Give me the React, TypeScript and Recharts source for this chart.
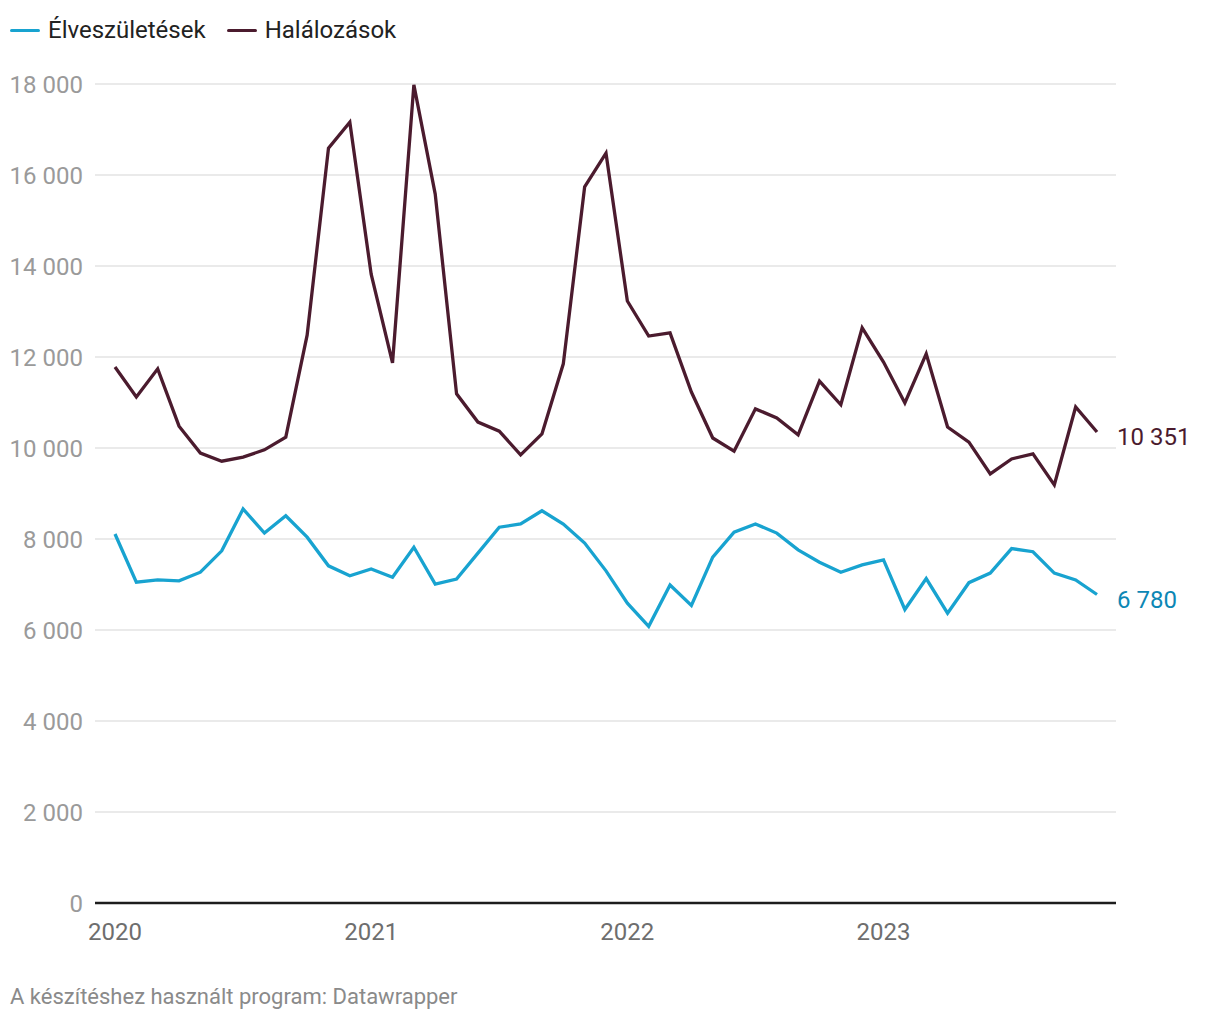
import React from 'react';
import { LineChart, Line, CartesianGrid, XAxis, YAxis } from 'recharts';

const years = ['2020', '2021', '2022', '2023'];

// havi adatok, 2020. jan – 2023. nov
const births = [
  8110, 7050, 7100, 7080, 7270, 7740, 8660, 8130, 8510, 8040, 7410, 7190,
  7340, 7160, 7820, 7010, 7120, 7690, 8260, 8330, 8620, 8330, 7910, 7300,
  6590, 6080, 6990, 6540, 7600, 8150, 8330, 8130, 7760, 7490, 7270, 7430,
  7540, 6450, 7130, 6370, 7040, 7250, 7790, 7720, 7250, 7100, 6780,
];

const deaths = [
  11780, 11120, 11740, 10480, 9890, 9710, 9800, 9960, 10240, 12480, 16590, 17160,
  13820, 11870, 17980, 15580, 11190, 10570, 10370, 9850, 10310, 11850, 15740, 16480,
  13230, 12460, 12530, 11230, 10220, 9930, 10860, 10660, 10290, 11470, 10950, 12640,
  11890, 10990, 12070, 10460, 10130, 9430, 9760, 9870, 9190, 10900, 10351,
];

const yTicks = [0, 2000, 4000, 6000, 8000, 10000, 12000, 14000, 16000, 18000];

const BIRTH_COLOR = '#18a3d0';
const BIRTH_LABEL = '#0c87b5';
const DEATH_COLOR = '#4b1b2e';
const FONT = 'Roboto, sans-serif';

const data = births.map((b, i) => ({ idx: i, births: b, deaths: deaths[i] }));
const lastIdx = births.length - 1;

const fmt = (v: number) => String(v).replace(/\B(?=(\d{3})+(?!\d))/g, ' ');

const endLabel = (color: string) => (props: any) => {
  const { x, y, index, value } = props;
  if (index !== lastIdx) return null;
  return (
    <text
      x={x + 20}
      y={y + 7}
      fill={color}
      fontSize={24}
      dominantBaseline="middle"
      fontFamily={FONT}
    >
      {fmt(value)}
    </text>
  );
};

const LegendItem = ({ color, label }: { color: string; label: string }) => (
  <div style={{ display: 'flex', alignItems: 'center', marginRight: 21 }}>
    <span
      style={{ width: 30, height: 3, borderRadius: 2, background: color, marginRight: 8 }}
    />
    <span>{label}</span>
  </div>
);

export default function App() {
  return (
    <div
      style={{
        position: 'absolute',
        left: 0,
        top: 0,
        width: 1220,
        height: 1020,
        background: '#fff',
        fontFamily: FONT,
      }}
    >
      <div
        style={{
          position: 'absolute',
          left: 10,
          top: 16,
          height: 28,
          display: 'flex',
          alignItems: 'center',
          fontSize: 24,
          color: '#222',
        }}
      >
        <LegendItem color={BIRTH_COLOR} label="Élveszületések" />
        <LegendItem color={DEATH_COLOR} label="Halálozások" />
      </div>

      <div style={{ position: 'absolute', left: 0, top: 0 }}>
        <LineChart
          width={1220}
          height={1020}
          data={data}
          margin={{ top: 84, right: 104, bottom: 77, left: 0 }}
        >
          <CartesianGrid vertical={false} stroke="#e3e3e3" strokeWidth={1.5} />
          <XAxis
            type="number"
            dataKey="idx"
            domain={[0, lastIdx]}
            ticks={[0, 12, 24, 36]}
            tickFormatter={(v: number) => years[v / 12]}
            padding={{ left: 20, right: 19 }}
            height={40}
            tickLine={false}
            tickSize={0}
            tickMargin={20}
            axisLine={{ stroke: '#1d1d1d', strokeWidth: 2.5 }}
            tick={{ fill: '#6e6e6e', fontSize: 24, fontFamily: FONT }}
          />
          <YAxis
            width={95}
            domain={[0, 18000]}
            ticks={yTicks}
            tickFormatter={fmt}
            axisLine={false}
            tickLine={false}
            tickSize={0}
            tickMargin={12}
            tick={{ fill: '#9a9a9a', fontSize: 24, fontFamily: FONT }}
          />
          <Line
            type="linear"
            dataKey="births"
            stroke={BIRTH_COLOR}
            strokeWidth={3.3}
            dot={false}
            isAnimationActive={false}
            label={endLabel(BIRTH_LABEL)}
          />
          <Line
            type="linear"
            dataKey="deaths"
            stroke={DEATH_COLOR}
            strokeWidth={3.3}
            dot={false}
            isAnimationActive={false}
            label={endLabel(DEATH_COLOR)}
          />
        </LineChart>
      </div>

      <div
        style={{
          position: 'absolute',
          left: 10,
          top: 984,
          lineHeight: '26px',
          fontSize: 22,
          color: '#8a8a8a',
        }}
      >
        A készítéshez használt program: Datawrapper
      </div>
    </div>
  );
}
